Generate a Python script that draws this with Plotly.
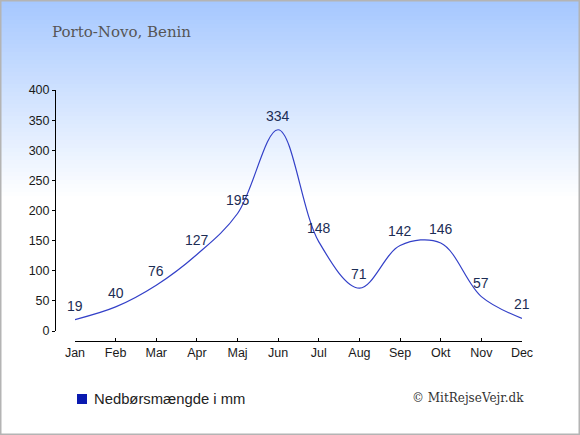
import plotly.graph_objects as go

# monthly rainfall, Porto-Novo
months = ["Jan", "Feb", "Mar", "Apr", "Maj", "Jun", "Jul", "Aug", "Sep", "Okt", "Nov", "Dec"]
rain_mm = [19, 40, 76, 127, 195, 334, 148, 71, 142, 146, 57, 21]
y_ticks = [0, 50, 100, 150, 200, 250, 300, 350, 400]

W, H = 580, 435


def px_x(p):
    return p / W


def px_y(p):
    return 1 - p / H


fig = go.Figure()
fig.add_trace(go.Scatter(
    x=months, y=rain_mm,
    mode="lines",
    line=dict(color="#3340c8", width=1.2, shape="spline", smoothing=1),
    hoverinfo="skip",
    showlegend=False,
))

annotations = []
for m, v in zip(months, rain_mm):
    annotations.append(dict(x=m, y=v, text=str(v), showarrow=False, yshift=14,
                            xanchor="center", yanchor="middle",
                            font=dict(family="Arial, Liberation Sans", size=14, color="#1c2d55")))

# background gradient (light blue at top fading to white)
shapes = []
n = 50
top = (166, 200, 255)
grad_end = 200
for i in range(n):
    t = i / (n - 1)
    c = tuple(int(round(a + (255 - a) * t)) for a in top)
    y0 = grad_end * i / n
    y1 = grad_end * (i + 1) / n + 0.5
    shapes.append(dict(type="rect", xref="paper", yref="paper", layer="below",
                       x0=0, x1=1, y0=px_y(y1), y1=px_y(y0),
                       fillcolor="rgb(%d,%d,%d)" % c, line=dict(width=0)))
# outer border
shapes.append(dict(type="rect", xref="paper", yref="paper", x0=0, x1=1, y0=0, y1=1,
                   line=dict(color="#b4b4b4", width=3), fillcolor="rgba(0,0,0,0)"))
# legend square
shapes.append(dict(type="rect", xref="paper", yref="paper",
                   x0=px_x(77), x1=px_x(87), y0=px_y(404), y1=px_y(394),
                   fillcolor="#0a1ab0", line=dict(width=0)))

annotations += [
    dict(text="Porto-Novo, Benin", xref="paper", yref="paper",
         x=px_x(50), y=px_y(32), xanchor="left", yanchor="middle", showarrow=False,
         font=dict(family="DejaVu Serif", size=15, color="#555")),
    dict(text="Nedbørsmængde i mm", xref="paper", yref="paper",
         x=px_x(92), y=px_y(399), xanchor="left", yanchor="middle", showarrow=False,
         font=dict(family="Arial, Liberation Sans", size=14.8, color="#222")),
    dict(text="© MitRejseVejr.dk", xref="paper", yref="paper",
         x=px_x(526), y=px_y(398), xanchor="right", yanchor="middle", showarrow=False,
         font=dict(family="DejaVu Serif", size=12, color="#333")),
]

fig.update_layout(
    width=W, height=H,
    margin=dict(l=0, r=0, t=0, b=0),
    paper_bgcolor="white",
    plot_bgcolor="rgba(0,0,0,0)",
    shapes=shapes,
    annotations=annotations,
    font=dict(family="Arial, Liberation Sans", size=12, color="#222"),
)

fig.update_xaxes(
    type="category", range=[0, 11],
    domain=[px_x(75), px_x(522)],
    anchor="free", position=px_y(341),
    showline=True, linecolor="#000", linewidth=1,
    ticks="inside", ticklen=3, tickcolor="#000", ticklabelstandoff=0,
    showgrid=False, zeroline=False, automargin=False,
    tickfont=dict(size=12.5, color="#1a1a1a"),
)
fig.update_yaxes(
    range=[0, 400], tickvals=y_ticks,
    domain=[px_y(331), px_y(90)],
    anchor="free", position=px_x(55),
    showline=True, linecolor="#000", linewidth=1,
    ticks="outside", ticklen=3, tickcolor="#000",
    showgrid=False, zeroline=False, automargin=False,
    tickfont=dict(size=12.5, color="#1a1a1a"),
)

fig.write_html("out.html", config={"displayModeBar": False},
               post_script="document.body.style.margin='0';")
